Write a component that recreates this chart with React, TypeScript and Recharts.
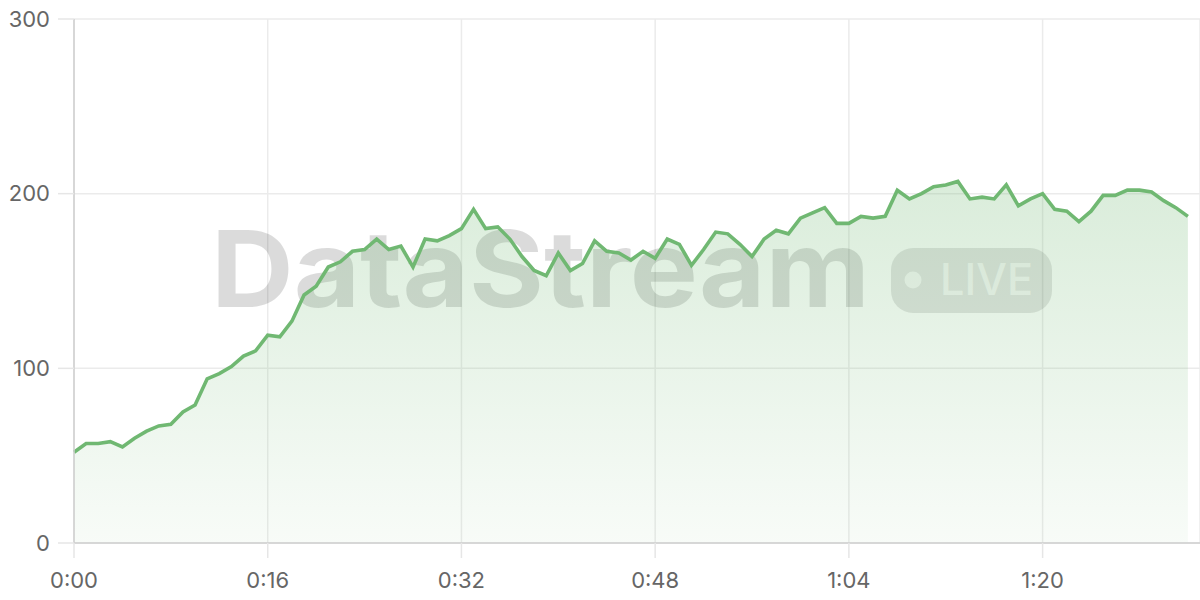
import React from "react";
import { AreaChart, Area, XAxis, YAxis, CartesianGrid } from "recharts";

// one sample per second, 0:00 .. 1:32
const values = [
  52, 57, 57, 58, 55, 60, 64, 67, 68, 75, 79, 94, 97, 101, 107, 110,
  119, 118, 127, 142, 147, 158, 161, 167, 168, 174, 168, 170, 158, 174, 173,
  176, 180, 191, 180, 181, 174, 164, 156, 153, 166, 156, 160, 173, 167, 166,
  162, 167, 163, 174, 171, 159, 168, 178, 177, 171, 164, 174, 179, 177, 186,
  189, 192, 183, 183, 187, 186, 187, 202, 197, 200, 204, 205, 207, 197,
  198, 197, 205, 193, 197, 200, 191, 190, 184, 190, 199, 199, 202, 202, 201,
  196, 192, 187,
];
const xTicks = [0, 16, 32, 48, 64, 80];
const yTicks = [0, 100, 200, 300];

const data = values.map((v, i) => ({ t: i, v }));

const fmt = (s: number) => `${Math.floor(s / 60)}:${String(s % 60).padStart(2, "0")}`;

const GREEN = "#70b872";
const tickStyle = { fill: "#666", fontSize: 22, fontFamily: "Inter, sans-serif" };

function Watermark() {
  return (
    <g style={{ pointerEvents: "none" }}>
      <text
        x={211}
        y={307}
        fontFamily="Inter, sans-serif"
        fontWeight={700}
        fontSize={106}
        textLength={659}
        lengthAdjust="spacingAndGlyphs"
        fill="#000"
        fillOpacity={0.14}
      >
        DataStream
      </text>
      <rect x={891} y={248} width={161} height={65} rx={22} fill="#000" fillOpacity={0.11} />
      <circle cx={913} cy={280} r={8.5} fill="#fff" fillOpacity={0.7} />
      <text
        x={940}
        y={295}
        fontFamily="Inter, sans-serif"
        fontWeight={500}
        fontSize={44}
        textLength={93}
        lengthAdjust="spacingAndGlyphs"
        fill="#fff"
        fillOpacity={0.7}
      >
        LIVE
      </text>
    </g>
  );
}

export default function App() {
  return (
    <div style={{ position: "absolute", left: 0, top: 0, width: 1200, height: 600, background: "#fff" }}>
      <AreaChart width={1200} height={600} data={data} margin={{ top: 19, right: 0, bottom: 0, left: 0 }}>
        <defs>
          <linearGradient id="fillGreen" x1="0" y1="0" x2="0" y2="1">
            <stop offset="0%" stopColor={GREEN} stopOpacity={0.26} />
            <stop offset="100%" stopColor={GREEN} stopOpacity={0.05} />
          </linearGradient>
        </defs>
        <CartesianGrid stroke="#ebebeb" strokeWidth={1.5} />
        <XAxis
          dataKey="t"
          type="number"
          domain={[0, 93]}
          ticks={xTicks}
          tickFormatter={fmt}
          height={57}
          tickSize={15}
          tickMargin={14}
          tick={tickStyle}
          axisLine={{ stroke: "#cfcfcf", strokeWidth: 1.5 }}
          tickLine={{ stroke: "#e6e6e6", strokeWidth: 1.5 }}
        />
        <YAxis
          domain={[0, 300]}
          ticks={yTicks}
          width={74}
          tickSize={16}
          tickMargin={8}
          tick={tickStyle}
          axisLine={{ stroke: "#cfcfcf", strokeWidth: 1.5 }}
          tickLine={{ stroke: "#e6e6e6", strokeWidth: 1.5 }}
        />
        <Area
          type="linear"
          dataKey="v"
          stroke="none"
          fill="url(#fillGreen)"
          fillOpacity={1}
          isAnimationActive={false}
          dot={false}
          activeDot={false}
        />
        <Watermark />
        <Area
          type="linear"
          dataKey="v"
          stroke={GREEN}
          strokeWidth={3.6}
          fill="none"
          isAnimationActive={false}
          dot={false}
          activeDot={false}
        />
      </AreaChart>
    </div>
  );
}
